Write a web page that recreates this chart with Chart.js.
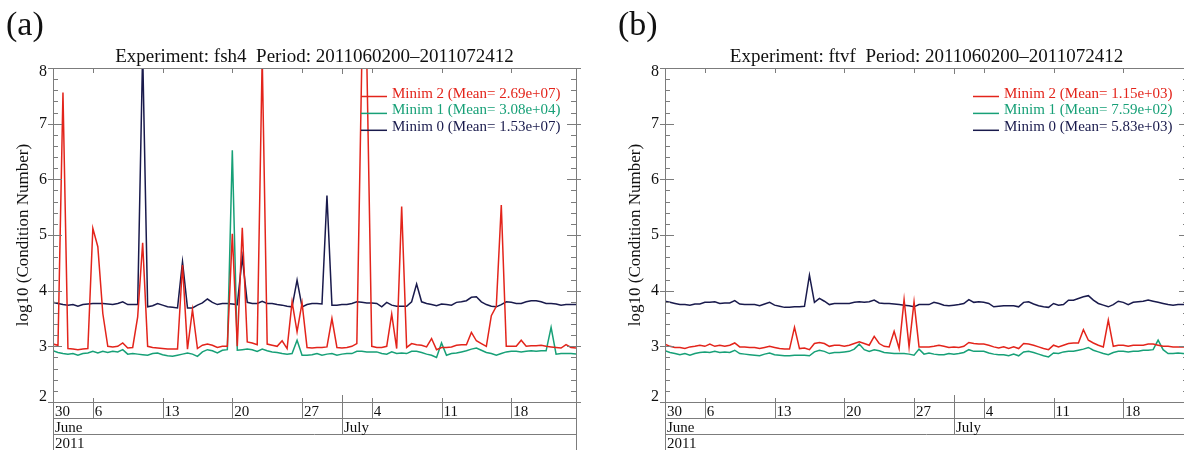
<!DOCTYPE html>
<html>
<head>
<meta charset="utf-8">
<script src="https://cdn.jsdelivr.net/npm/chart.js@4.4.1/dist/chart.umd.min.js"></script>
<style>
  html, body { margin: 0; padding: 0; background: #fff; overflow: hidden; }
  #wrap { position: relative; width: 1184px; height: 450px; overflow: hidden; }
  canvas { position: absolute; top: 0; }
  #chartA { left: 0; }
  #chartB { left: 612px; }
</style>
</head>
<body>
<div id="wrap">
  <canvas id="chartA" width="600" height="450"></canvas>
  <canvas id="chartB" width="600" height="450"></canvas>
</div>
<script>
// analysis times: every 12 h from 2011060200 to 2011072412
const startDate = '2011-06-02T00:00Z';
const endDate = '2011-07-24T12:00Z';
const stepHours = 12;

// calendar rows under the x axis
const weekStarts = ['2011-05-30', '2011-06-06', '2011-06-13', '2011-06-20', '2011-06-27', '2011-07-04', '2011-07-11', '2011-07-18'];
const weekLabels = ['30', '6', '13', '20', '27', '4', '11', '18'];
const monthStarts = ['2011-06-01', '2011-07-01'];
const monthLabels = ['June', 'July'];
const yearLabels = ['2011'];
const yTickLabels = [2, 3, 4, 5, 6, 7, 8];

const seriesNames = ['Minim 2', 'Minim 1', 'Minim 0'];
const fsh4Means = ['2.69e+07', '3.08e+04', '1.53e+07'];
const ftvfMeans = ['1.15e+03', '7.59e+02', '5.83e+03'];

// log10 of the condition number, experiment fsh4
const fsh4Minim2 = [
  3.04, 3.02, 7.56, 2.96, 2.95, 2.94, 2.95, 2.96, 5.12, 4.79,
  3.59, 3.00, 2.99, 3.00, 3.06, 2.97, 2.98, 3.53, 4.86, 3.00,
  2.98, 2.97, 2.96, 2.95, 2.95, 2.95, 4.46, 2.95, 3.66, 2.96,
  3.02, 3.04, 3.02, 2.98, 3.00, 3.00, 5.02, 3.00, 5.13, 3.08,
  3.06, 3.03, 8.20, 3.04, 3.02, 3.00, 3.10, 2.96, 3.80, 3.26,
  3.78, 2.98, 2.97, 2.98, 2.98, 2.99, 3.50, 2.98, 2.97, 2.98,
  3.00, 3.05, 8.15, 8.15, 3.00, 2.98, 2.98, 3.00, 3.58, 2.96,
  5.51, 2.98, 3.05, 3.03, 3.02, 2.99, 3.14, 2.94, 2.98, 2.98,
  2.99, 3.02, 3.03, 3.03, 3.25, 3.10, 3.05, 3.00, 3.55, 3.72,
  5.54, 3.00, 3.00, 3.00, 3.11, 3.00, 3.01, 3.01, 3.02, 3.00,
  2.99, 2.98, 2.97, 3.03, 2.98, 2.97
];
const fsh4Minim1 = [
  2.92, 2.89, 2.87, 2.86, 2.87, 2.84, 2.87, 2.88, 2.91, 2.88,
  2.91, 2.89, 2.91, 2.90, 2.94, 2.86, 2.87, 2.86, 2.85, 2.84,
  2.87, 2.88, 2.85, 2.83, 2.82, 2.84, 2.86, 2.88, 2.86, 2.82,
  2.90, 2.94, 2.92, 2.88, 2.93, 2.94, 6.52, 2.93, 2.94, 2.95,
  2.94, 2.91, 2.95, 2.92, 2.90, 2.89, 2.87, 2.86, 2.87, 3.11,
  2.84, 2.84, 2.85, 2.87, 2.84, 2.86, 2.87, 2.84, 2.86, 2.87,
  2.87, 2.91, 2.91, 2.90, 2.90, 2.90, 2.87, 2.86, 2.90, 2.87,
  2.88, 2.87, 2.91, 2.91, 2.89, 2.86, 2.84, 2.80, 3.06, 2.84,
  2.87, 2.88, 2.90, 2.92, 2.95, 2.97, 2.93, 2.89, 2.87, 2.84,
  2.87, 2.90, 2.91, 2.91, 2.90, 2.91, 2.92, 2.91, 2.92, 2.92,
  3.34, 2.86, 2.87, 2.87, 2.87, 2.86
];
const fsh4Minim0 = [
  3.79, 3.77, 3.75, 3.74, 3.75, 3.72, 3.75, 3.76, 3.77, 3.77,
  3.77, 3.76, 3.75, 3.77, 3.80, 3.75, 3.75, 3.75, 8.30, 3.71,
  3.73, 3.77, 3.74, 3.71, 3.70, 3.69, 4.52, 3.69, 3.69, 3.74,
  3.78, 3.85, 3.79, 3.75, 3.77, 3.77, 3.76, 3.75, 4.60, 3.79,
  3.77, 3.77, 3.81, 3.77, 3.77, 3.75, 3.74, 3.72, 3.71, 4.19,
  3.71, 3.75, 3.77, 3.77, 3.76, 5.71, 3.74, 3.74, 3.75, 3.75,
  3.77, 3.80, 3.79, 3.78, 3.78, 3.77, 3.71, 3.79, 3.74, 3.72,
  3.72, 3.72, 3.80, 4.12, 3.80, 3.77, 3.75, 3.73, 3.76, 3.75,
  3.74, 3.79, 3.80, 3.82, 3.88, 3.89, 3.80, 3.75, 3.72, 3.71,
  3.75, 3.80, 3.79, 3.77, 3.77, 3.80, 3.82, 3.82, 3.80, 3.77,
  3.77, 3.76, 3.74, 3.75, 3.75, 3.75
];

// log10 of the condition number, experiment ftvf
const ftvfMinim2 = [
  3.04, 3.00, 2.98, 2.98, 2.96, 2.99, 3.00, 3.02, 3.00, 3.04,
  3.00, 3.02, 3.00, 3.02, 3.06, 2.99, 2.99, 2.98, 2.98, 2.96,
  2.98, 3.00, 2.98, 2.96, 2.95, 2.95, 3.34, 2.96, 2.97, 2.94,
  3.05, 3.07, 3.05, 3.00, 3.02, 3.02, 3.00, 3.02, 3.05, 3.08,
  3.05, 3.02, 3.18, 3.05, 3.00, 2.99, 3.27, 2.96, 3.84, 2.99,
  3.80, 2.99, 2.99, 2.99, 3.00, 3.02, 3.00, 2.98, 2.99, 2.98,
  3.00, 3.07, 3.05, 3.04, 3.04, 3.02, 2.99, 2.97, 2.99, 2.96,
  2.99, 2.96, 3.05, 3.04, 3.02, 2.99, 2.96, 2.94, 3.02, 2.99,
  3.02, 3.05, 3.06, 3.06, 3.30, 3.11, 3.06, 3.02, 2.99, 3.47,
  3.00, 3.02, 3.02, 3.00, 3.02, 3.02, 3.02, 3.04, 3.04, 3.02,
  3.00, 3.00, 2.99, 2.99, 2.99, 2.99
];
const ftvfMinim1 = [
  2.92, 2.89, 2.87, 2.85, 2.87, 2.84, 2.87, 2.89, 2.90, 2.89,
  2.91, 2.89, 2.90, 2.89, 2.93, 2.87, 2.86, 2.85, 2.84, 2.83,
  2.86, 2.88, 2.85, 2.84, 2.83, 2.83, 2.84, 2.84, 2.84, 2.83,
  2.90, 2.93, 2.91, 2.87, 2.89, 2.89, 2.90, 2.91, 2.95, 3.04,
  2.94, 2.91, 2.94, 2.92, 2.89, 2.88, 2.87, 2.87, 2.87, 2.86,
  2.84, 2.95, 2.86, 2.88, 2.86, 2.85, 2.85, 2.87, 2.86, 2.87,
  2.89, 2.94, 2.91, 2.91, 2.91, 2.88, 2.86, 2.85, 2.85, 2.83,
  2.86, 2.83, 2.90, 2.91, 2.89, 2.86, 2.83, 2.81, 2.88, 2.87,
  2.90, 2.91, 2.91, 2.93, 2.95, 2.98, 2.93, 2.90, 2.87, 2.85,
  2.89, 2.91, 2.91, 2.90, 2.91, 2.91, 2.93, 2.93, 2.94, 3.11,
  2.94, 2.87, 2.87, 2.88, 2.87, 2.86
];
const ftvfMinim0 = [
  3.81, 3.79, 3.77, 3.75, 3.75, 3.74, 3.76, 3.76, 3.79, 3.79,
  3.80, 3.77, 3.78, 3.78, 3.82, 3.76, 3.75, 3.75, 3.75, 3.73,
  3.76, 3.79, 3.74, 3.72, 3.70, 3.70, 3.71, 3.71, 3.72, 4.28,
  3.79, 3.86, 3.81, 3.75, 3.77, 3.77, 3.77, 3.77, 3.79, 3.80,
  3.79, 3.80, 3.83, 3.78, 3.77, 3.77, 3.76, 3.75, 3.74, 3.73,
  3.71, 3.75, 3.75, 3.75, 3.79, 3.77, 3.74, 3.73, 3.74, 3.75,
  3.77, 3.84, 3.79, 3.80, 3.79, 3.77, 3.71, 3.72, 3.73, 3.73,
  3.73, 3.71, 3.79, 3.80, 3.76, 3.73, 3.71, 3.70, 3.77, 3.74,
  3.75, 3.83, 3.83, 3.86, 3.89, 3.91, 3.83, 3.77, 3.74, 3.71,
  3.75, 3.81, 3.79, 3.75, 3.79, 3.80, 3.81, 3.83, 3.81, 3.79,
  3.77, 3.75, 3.74, 3.75, 3.75, 3.75
];

const RED = '#e3241b';
const GREEN = '#17a077';
const NAVY = '#191a4c';
const AXIS = '#7c7c7c';
const SERIF = '"Liberation Serif", "Times New Roman", serif';

function dayOf(dateStr) {
  var t = Date.parse(dateStr.length > 10 ? dateStr : dateStr + 'T00:00Z');
  return (t - Date.parse(startDate)) / 86400000;
}

function hLine(ctx, x0, x1, y) {
  y = Math.round(y) + 0.5;
  ctx.beginPath(); ctx.moveTo(x0, y); ctx.lineTo(x1, y); ctx.stroke();
}

function vLine(ctx, x, y0, y1) {
  x = Math.round(x) + 0.5;
  ctx.beginPath(); ctx.moveTo(x, y0); ctx.lineTo(x, y1); ctx.stroke();
}

// frame, ticks, calendar rows, titles and legend for one panel
const panelDecor = {
  id: 'panelDecor',
  afterDraw(chart, args, opts) {
    var ctx = chart.ctx;
    var a = chart.chartArea;
    var xs = chart.scales.x, ys = chart.scales.y;
    var H = chart.height;
    ctx.save();
    ctx.strokeStyle = AXIS;
    ctx.lineWidth = 1;

    // box round the plot, left/right edges run down through the date rows
    hLine(ctx, a.left, a.right + 1, a.top);
    hLine(ctx, a.left, a.right + 1, a.bottom);
    vLine(ctx, a.left, a.top, H);
    vLine(ctx, a.right, a.top, H);
    hLine(ctx, a.left, a.right, a.bottom + 16);
    hLine(ctx, a.left, a.right, a.bottom + 32);

    // y ticks every 0.2
    for (var k = 0; k <= 30; k++) {
      var y = ys.getPixelForValue(2 + k * 0.2);
      var major = k % 5 === 0;
      var len = major ? 9 : 5;
      hLine(ctx, a.left - (major ? 5 : 0), a.left + len, y);
      hLine(ctx, a.right - len, a.right + (major ? 5 : 0), y);
    }

    // week ticks
    weekStarts.forEach(function (d) {
      var x = xs.getPixelForValue(dayOf(d));
      if (x <= a.left + 1 || x >= a.right) return;
      vLine(ctx, x, a.top, a.top + 5);
      vLine(ctx, x, a.bottom - 4, a.bottom + 16);
    });
    // month boundaries
    monthStarts.forEach(function (d) {
      var x = xs.getPixelForValue(dayOf(d));
      if (x <= a.left + 1 || x >= a.right) return;
      vLine(ctx, x, a.top, a.top + 6);
      vLine(ctx, x, a.bottom - 7, a.bottom + 32);
    });

    ctx.fillStyle = '#111';
    ctx.textBaseline = 'alphabetic';
    ctx.font = '15px ' + SERIF;
    ctx.textAlign = 'left';
    weekStarts.forEach(function (d, i) {
      var x = Math.max(xs.getPixelForValue(dayOf(d)), a.left);
      ctx.fillText(weekLabels[i], x + 2, a.bottom + 14);
    });
    monthStarts.forEach(function (d, i) {
      var x = Math.max(xs.getPixelForValue(dayOf(d)), a.left);
      ctx.fillText(monthLabels[i], x + 2, a.bottom + 30);
    });
    ctx.fillText(yearLabels[0], a.left + 2, a.bottom + 46);

    // y tick labels, kept inside the frame at the ends
    ctx.font = '16px ' + SERIF;
    ctx.textAlign = 'right';
    ctx.textBaseline = 'middle';
    yTickLabels.forEach(function (v) {
      var y = ys.getPixelForValue(v);
      y = Math.min(Math.max(y, a.top + 4), a.bottom - 5);
      ctx.fillText(String(v), a.left - 6, y);
    });

    // y axis title
    ctx.save();
    ctx.translate(24, (a.top + a.bottom) / 2);
    ctx.rotate(-Math.PI / 2);
    ctx.textAlign = 'center';
    ctx.font = '17px ' + SERIF;
    ctx.fillText('log10 (Condition Number)', 0, 0);
    ctx.restore();

    // panel title and tag
    ctx.textBaseline = 'alphabetic';
    ctx.textAlign = 'center';
    ctx.font = '19px ' + SERIF;
    ctx.fillText('Experiment: ' + opts.exp + '  Period: 2011060200\u20132011072412', (a.left + a.right) / 2, 62);
    ctx.textAlign = 'left';
    ctx.font = '34px ' + SERIF;
    ctx.fillText(opts.tag, 6, 35);

    // legend
    ctx.font = '15px ' + SERIF;
    chart.data.datasets.forEach(function (ds, i) {
      var base = 97.5 + i * 16.9;
      ctx.strokeStyle = ds.borderColor;
      ctx.lineWidth = 1.5;
      ctx.beginPath();
      ctx.moveTo(a.right - 215, base - 1);
      ctx.lineTo(a.right - 189, base - 1);
      ctx.stroke();
      ctx.fillStyle = ds.borderColor;
      ctx.fillText(ds.label + ' (Mean= ' + opts.means[i] + ')', a.right - 184, base);
    });
    ctx.restore();
  }
};

function buildPanel(canvasId, tag, exp, seriesList, means) {
  var colors = [RED, GREEN, NAVY];
  var datasets = seriesList.map(function (vals, k) {
    return {
      label: seriesNames[k],
      data: vals.map(function (v, i) { return { x: i * stepHours / 24, y: v }; }),
      borderColor: colors[k],
      borderWidth: 1.5,
      pointRadius: 0,
      tension: 0,
      clip: 0
    };
  });

  var ctx = document.getElementById(canvasId).getContext('2d');
  return new Chart(ctx, {
    type: 'line',
    data: { datasets: datasets },
    options: {
      responsive: false,
      animation: false,
      layout: { padding: { left: 53, right: 24, top: 68, bottom: 48 } },
      plugins: {
        legend: { display: false },
        tooltip: { enabled: false },
        panelDecor: { tag: tag, exp: exp, means: means }
      },
      scales: {
        x: { type: 'linear', min: 0, max: dayOf(endDate), display: false },
        y: { type: 'linear', min: 2, max: 8, display: false }
      }
    },
    plugins: [panelDecor]
  });
}

buildPanel('chartA', '(a)', 'fsh4', [fsh4Minim2, fsh4Minim1, fsh4Minim0], fsh4Means);
buildPanel('chartB', '(b)', 'ftvf', [ftvfMinim2, ftvfMinim1, ftvfMinim0], ftvfMeans);
</script>
</body>
</html>
